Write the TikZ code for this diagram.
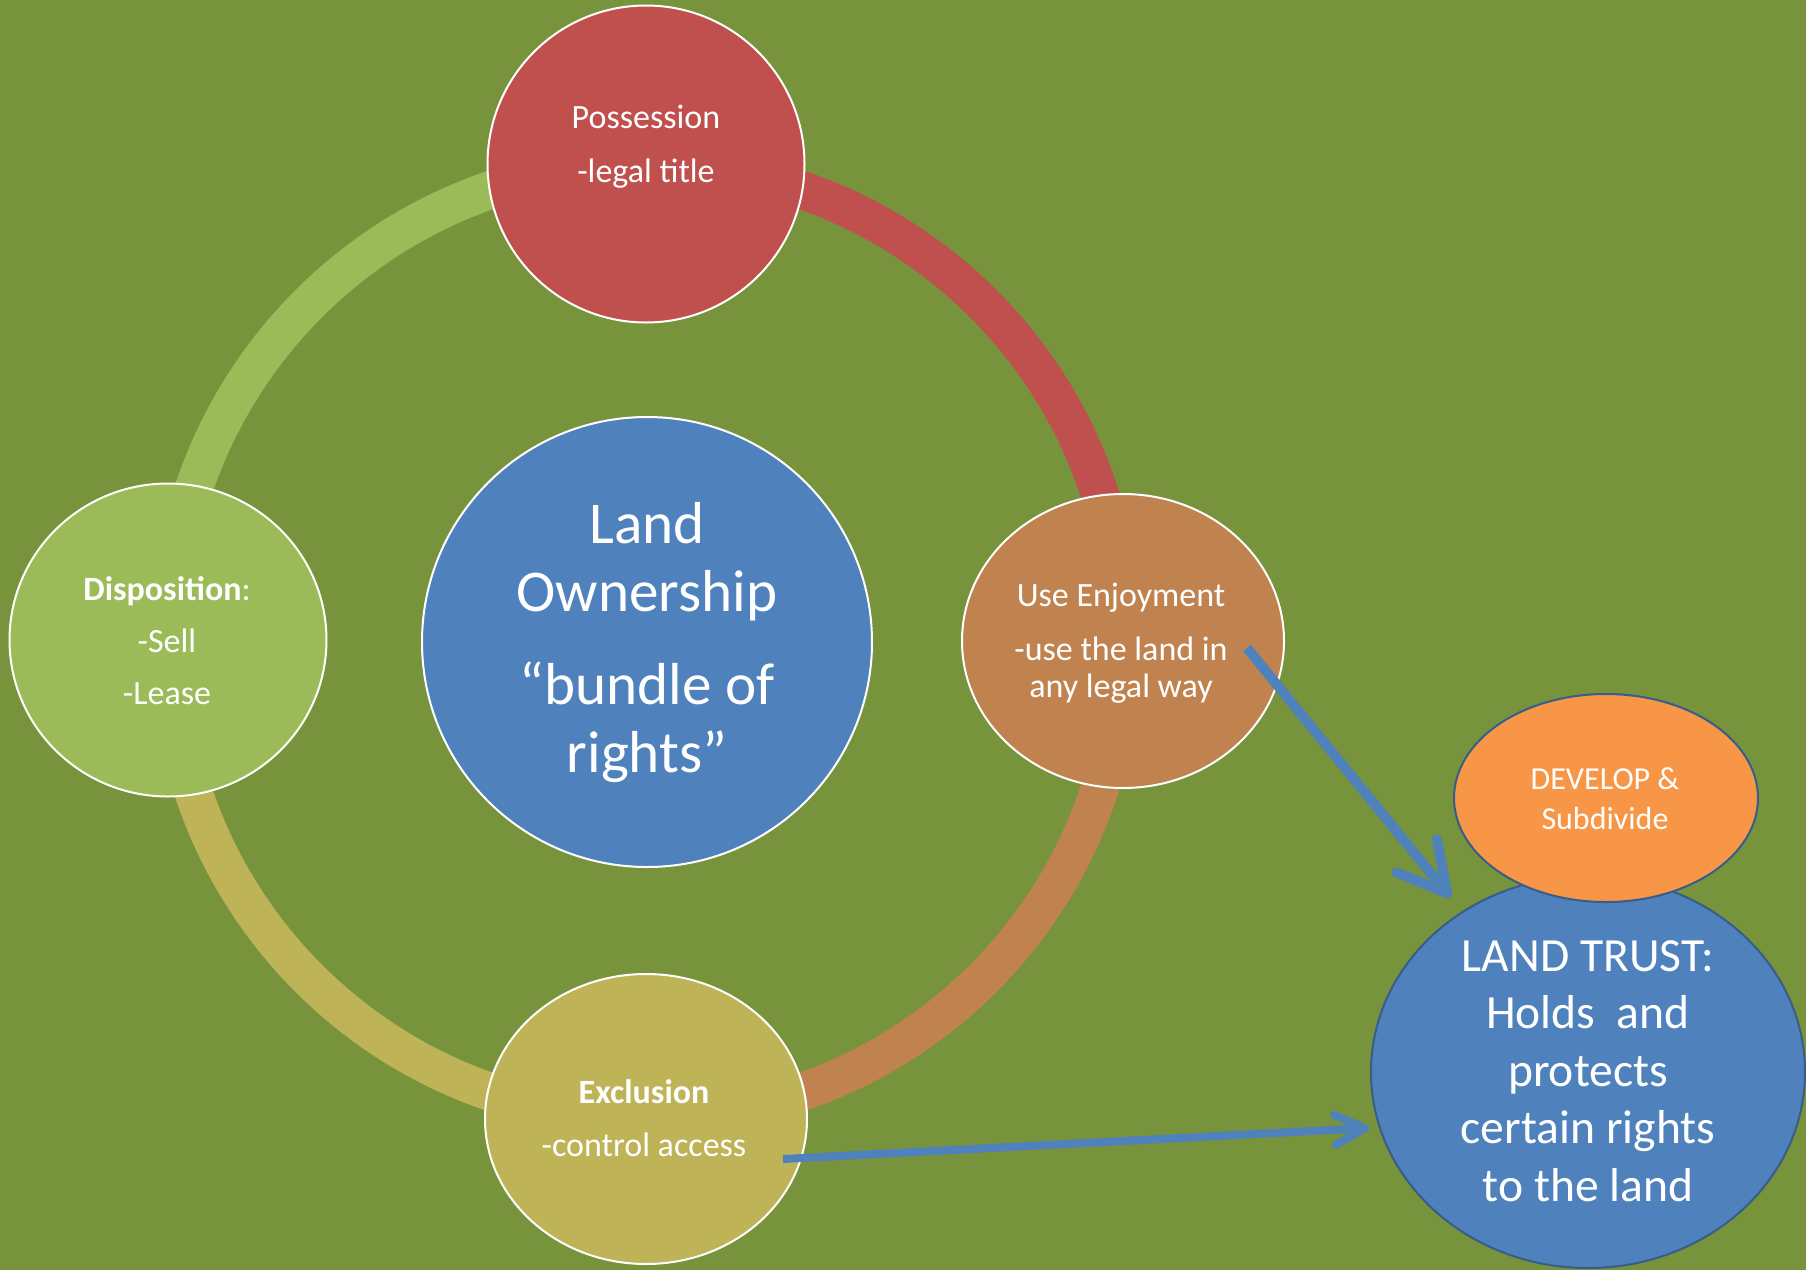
\documentclass[tikz,border=0pt]{standalone}
\usepackage{fontspec}
\setmainfont{Carlito}
\usetikzlibrary{shapes.geometric,arrows.meta}
\definecolor{bg}{HTML}{77933C}
\definecolor{posscol}{HTML}{C0504D}
\definecolor{usecol}{HTML}{C0834F}
\definecolor{exclcol}{HTML}{BFB358}
\definecolor{dispcol}{HTML}{9BBB59}
\definecolor{bluecol}{HTML}{4F81BD}
\definecolor{edgecol}{HTML}{385D8A}
\definecolor{devcol}{HTML}{F79646}

\begin{document}
\begin{tikzpicture}[x=0.5pt,y=-0.5pt,
  bubble/.style={ellipse,draw=white,line width=1pt,inner sep=0pt},
  words/.style={text=white,align=center,inner sep=0pt},
  band/.style={line width=19pt},
  pointer/.style={draw=bluecol}]
\fill[bg] (0,0) rectangle (1806,1270);
\useasboundingbox (0,0) rectangle (1806,1270);
\coordinate (ring) at (646,641);
\foreach \a/\b/\c in {180/270/dispcol,270/360/posscol,0/90/usecol,90/180/exclcol}
\draw[band,\c] (ring) ++(\a:477) arc[start angle=\a,end angle=\b,radius=477];
\node[bubble,fill=posscol,minimum width=158.5pt,minimum height=158.5pt] (poss) at (646,164) {};
\node[words,font=\fontsize{17}{27}\selectfont] (possT) at (646,147) {Possession\\-legal title};
\node[bubble,fill=usecol,minimum width=161pt,minimum height=147pt] (use) at (1123,641) {};
\node[words,font=\fontsize{17}{18.5}\selectfont] (useT) at (1121,643) {Use Enjoyment\\[8.5pt]-use the land in\\any legal way};
\node[bubble,fill=dispcol,minimum width=158.5pt,minimum height=156.5pt] (disp) at (168,640) {};
\node[words,font=\fontsize{17}{26}\selectfont] (dispT) at (167,641) {\textbf{Disposition}:\\-Sell\\-Lease};
\node[bubble,fill=exclcol,minimum width=161pt,minimum height=145pt] (excl) at (646,1119) {};
\node[words,font=\fontsize{17}{26.5}\selectfont] (exclT) at (644,1118) {\textbf{Exclusion}\\-control access};
\node[bubble,fill=bluecol,minimum width=225pt,minimum height=225pt] (own) at (647,642) {};
\node[words,font=\fontsize{29.6}{34}\selectfont] (ownT) at (647,643) {Land\\Ownership\\[12.5pt]“bundle of\\rights”};
\node[ellipse,draw=edgecol,line width=1pt,fill=bluecol,minimum width=217pt,minimum height=196pt] (trust) at (1588,1072) {};
\node[words,font=\fontsize{23.8}{28.8}\selectfont] (trustT) at (1588,1071) {LAND TRUST:\\Holds \ and\\protects\\certain rights\\to the land};
\node[ellipse,draw=edgecol,line width=1pt,fill=devcol,minimum width=152pt,minimum height=104pt] (dev) at (1606,798) {};
\node[words,font=\fontsize{16}{20}\selectfont] (devT) at (1605,799) {DEVELOP \&\\Subdivide};
\coordinate (useTail) at (1247,648);
\coordinate (exclTail) at (783,1159);
\draw[pointer,line width=5pt,-{Straight Barb[round,length=24pt,width=26pt]}] (useTail) -- ([shift={(-6pt,7pt)}]trust.128);
\draw[pointer,line width=4pt,-{Straight Barb[round,length=15pt,width=15pt]}] (exclTail) -- ([xshift=-5pt]trust.195);
\end{tikzpicture}
\end{document}
